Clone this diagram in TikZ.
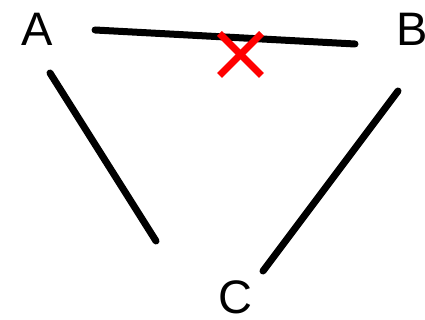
\documentclass[tikz,border=0pt]{standalone}
\usepackage{fontspec}
\setmainfont{Liberation Sans}
\begin{document}
\begin{tikzpicture}[x=1pt,y=1pt,
  lbl/.style={inner sep=0pt, font=\fontsize{47}{50}\selectfont},
  edge/.style={line width=7pt, line cap=round, black},
  cross/.style={line width=7pt, red}]
\useasboundingbox (0,0) rectangle (425,320);
\node[lbl, anchor=base] (A) at (37,274) {A};
\node[lbl, anchor=base west] (B) at (396.5,274) {B};
\node[lbl, anchor=base] (C) at (235.5,6) {C};
\coordinate (ab1) at (95,290);
\coordinate (ab2) at (355,276);
\coordinate (ac1) at (50,247);
\coordinate (ac2) at (156,79);
\coordinate (bc1) at (398,229);
\coordinate (bc2) at (263,49);
\draw[edge] (ab1) -- (ab2);
\draw[edge] (ac1) -- (ac2);
\draw[edge] (bc1) -- (bc2);
\coordinate (x1) at (219.5,286.5);
\coordinate (x2) at (261.5,244.5);
\coordinate (x3) at (219.5,244.5);
\coordinate (x4) at (261.5,286.5);
\draw[cross] (x1) -- (x2);
\draw[cross] (x3) -- (x4);
\end{tikzpicture}
\end{document}
